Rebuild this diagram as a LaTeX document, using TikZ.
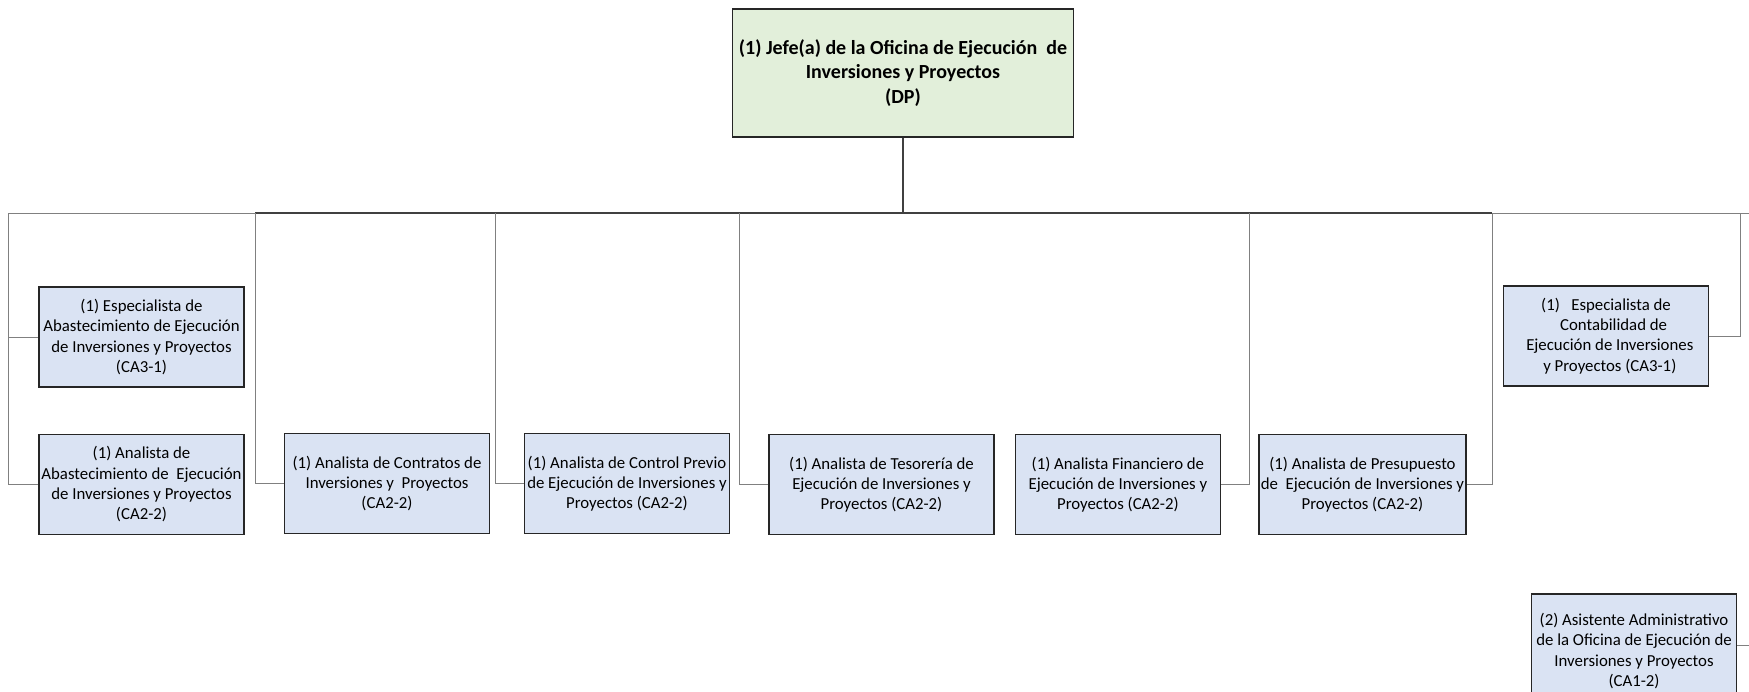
\documentclass[tikz,border=0pt]{standalone}
\usepackage{fontspec}
\setmainfont{Carlito}
\usetikzlibrary{positioning}
\definecolor{jefegreen}{RGB}{226,239,218}
\definecolor{postblue}{RGB}{218,227,243}

\begin{document}
\begin{tikzpicture}[
  x=0.5pt, y=-0.5pt,
  every node/.style={font=\fontsize{8.4}{10.15}\selectfont},
  head/.style={rectangle, draw=black!85, line width=0.7pt, fill=jefegreen,
    minimum width=170pt, minimum height=64pt, align=center,
    font=\bfseries\fontsize{10}{12.4}\selectfont},
  post/.style={rectangle, draw=black!85, line width=0.7pt, fill=postblue,
    minimum width=102.5pt, minimum height=50pt, align=center, inner sep=1pt},
  bus/.style={draw=black!75, line width=0.6pt},
  link/.style={draw=black!50, line width=0.5pt}
]
  \useasboundingbox (0,0) rectangle (1749,691);

  \node[head] (jefe) at (903,73)
    {(1) Jefe(a) de la Oficina de Ejecución\ \ de\\Inversiones y Proyectos\\(DP)};

  \node[post] (espabas) at (141.5,337)
    {(1) Especialista de\\Abastecimiento de Ejecución\\de Inversiones y Proyectos\\(CA3-1)};
  \node[post, below=23pt of espabas] (anabas)
    {(1) Analista de\\Abastecimiento de\ \ Ejecución\\de Inversiones y Proyectos\\(CA2-2)};
  \node[post] (contratos) at (387,483.5)
    {(1) Analista de Contratos de\\Inversiones y\ \ Proyectos\\(CA2-2)};
  \node[post] (control) at (627,483.5)
    {(1) Analista de Control Previo\\de Ejecución de Inversiones y\\Proyectos (CA2-2)};
  \node[post, minimum width=112.5pt] (tesoreria) at (881.5,484.5)
    {(1) Analista de Tesorería de\\Ejecución de Inversiones y\\Proyectos (CA2-2)};
  \node[post, right=10pt of tesoreria] (financiero)
    {(1) Analista Financiero de\\Ejecución de Inversiones y\\Proyectos (CA2-2)};
  \node[post, right=18.5pt of financiero] (presupuesto)
    {(1) Analista de Presupuesto\\de\ \ Ejecución de Inversiones y\\Proyectos (CA2-2)};
  \node[post] (contab) at (1606,336)
    {(1)\ \ \ Especialista de\\\ \ \ \ Contabilidad de\\\ \ Ejecución de Inversiones\\\ \ y Proyectos (CA3-1)};
  \node[post, minimum height=57pt] (asist) at (1634,651)
    {(2) Asistente Administrativo\\de la Oficina de Ejecución de\\Inversiones y Proyectos\\(CA1-2)};

  % bus and stems
  \coordinate (busL) at (8,213);
  \coordinate (busR) at (1749,213);
  \coordinate (s2) at (255,213);
  \coordinate (s3) at (495,213);
  \coordinate (s4) at (739,213);
  \coordinate (s5) at (1249,213);
  \coordinate (s6) at (1492,213);
  \coordinate (s7) at (1740,213);
  \coordinate (edgeR) at (1749,645);

  \draw[link] (busL) -- (busR);
  \draw[bus] (s2) -- (s6);
  \draw[bus] (jefe.south) -- (jefe.south |- busL);

  \draw[link] (busL) |- (espabas.west);
  \draw[link] (busL) |- (anabas.west);
  \foreach \s/\n in {s2/contratos, s3/control, s4/tesoreria}
    \draw[link] (\s) |- (\n.west);
  \foreach \s/\n in {s5/financiero, s6/presupuesto, s7/contab}
    \draw[link] (\s) |- (\n.east);
  \draw[link] (edgeR) -- (edgeR -| asist.east);
\end{tikzpicture}
\end{document}
